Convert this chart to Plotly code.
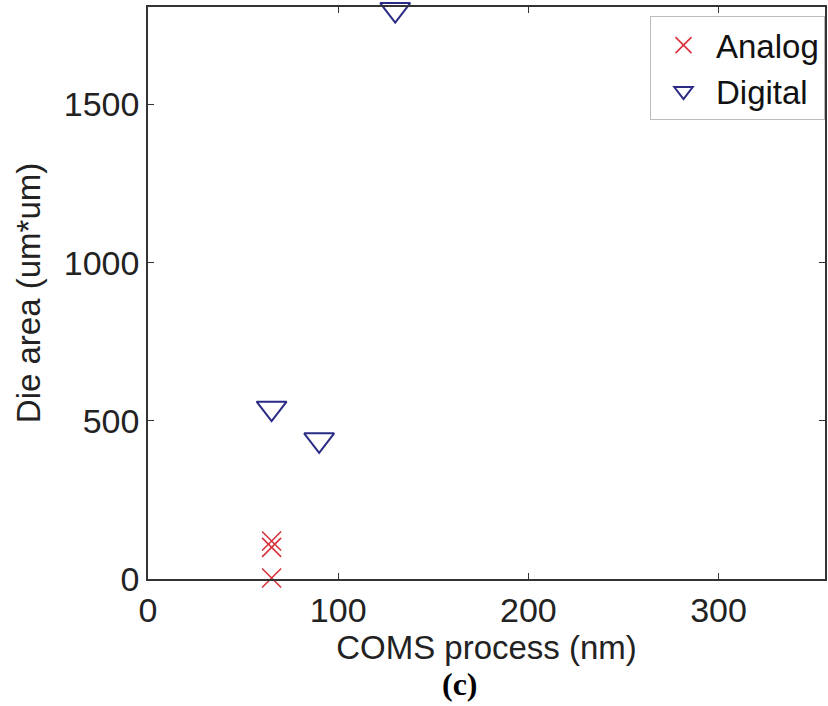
import plotly.graph_objects as go

analog_x = [65, 65, 65]
analog_y = [120, 100, 3]
digital_x = [65, 90, 130]
digital_y = [540, 440, 1800]

x_ticks = [0, 100, 200, 300]
y_ticks = [0, 500, 1000, 1500]

FONT = "Arial, Liberation Sans, sans-serif"

fig = go.Figure()
fig.add_trace(go.Scatter(
    x=analog_x, y=analog_y, mode="markers", name="Analog",
    marker=dict(symbol="x-thin-open", size=19, color="#d8323c",
                line=dict(width=1.6, color="#d8323c")),
    cliponaxis=False,
))
fig.add_trace(go.Scatter(
    x=digital_x, y=digital_y, mode="markers", name="Digital",
    marker=dict(symbol="triangle-down-open", size=26, color="#2b2b86",
                line=dict(width=2, color="#2b2b86")),
    cliponaxis=False,
))

axis_common = dict(
    showgrid=False, zeroline=False, showline=True, linecolor="#333333",
    linewidth=1.5, mirror="allticks", ticks="inside", ticklen=6,
    tickcolor="#333333", tickfont=dict(family=FONT, size=34, color="#222222"),
)

fig.update_layout(
    width=828, height=706,
    margin=dict(l=148, r=1, t=7, b=127),
    paper_bgcolor="white", plot_bgcolor="white",
    font=dict(family=FONT, color="#222222"),
    xaxis=dict(range=[0, 356], tickvals=x_ticks, **axis_common,
               title=dict(text="COMS process (nm)", font=dict(family=FONT, size=33), standoff=4)),
    yaxis=dict(range=[0, 1808], tickvals=y_ticks, **axis_common,
               title=dict(text="Die area (um*um)", font=dict(family=FONT, size=33), standoff=13)),
    legend=dict(x=1, y=0.984, xanchor="right", yanchor="top",
                bordercolor="#bbbbbb", borderwidth=1, bgcolor="white",
                font=dict(family=FONT, size=33, color="#111111"),
                itemsizing="trace", itemwidth=55, tracegroupgap=0),
    annotations=[dict(text="<b>(c)</b>", xref="paper", yref="paper",
                      x=(461 - 148) / 679, y=(579 - 684) / 572,
                      xanchor="center", yanchor="middle", showarrow=False,
                      font=dict(family="Liberation Serif, Times New Roman, serif", size=32, color="#000000"))],
)

fig.write_html("out.html", config={"displayModeBar": False},
               post_script="document.body.style.margin='0';")
